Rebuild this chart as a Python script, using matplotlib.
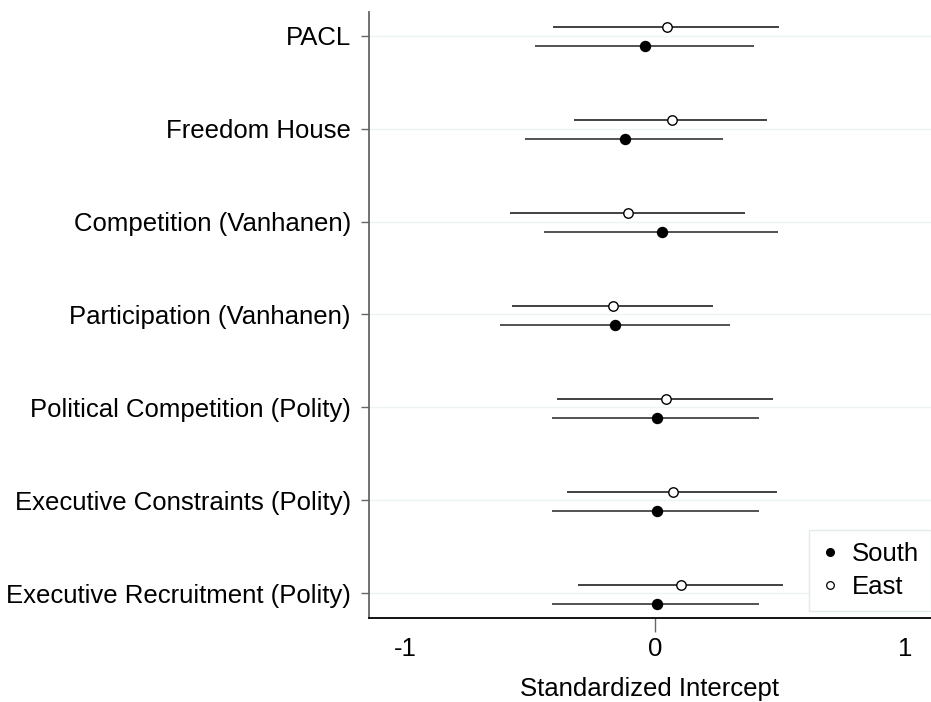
import numpy as np
import matplotlib.pyplot as plt

plt.rcParams['font.family'] = ['Liberation Sans', 'DejaVu Sans']

labels = ["PACL", "Freedom House", "Competition (Vanhanen)",
          "Participation (Vanhanen)", "Political Competition (Polity)",
          "Executive Constraints (Polity)", "Executive Recruitment (Polity)"]

# point estimates and interval ends
south_est = [-0.039, -0.120, 0.027, -0.159, 0.007, 0.007, 0.007]
south_lo = [-0.480, -0.520, -0.443, -0.620, -0.413, -0.413, -0.413]
south_hi = [0.396, 0.273, 0.491, 0.300, 0.417, 0.417, 0.417]

east_est = [0.049, 0.067, -0.107, -0.167, 0.043, 0.071, 0.103]
east_lo = [-0.407, -0.324, -0.580, -0.571, -0.393, -0.351, -0.309]
east_hi = [0.495, 0.449, 0.360, 0.231, 0.471, 0.489, 0.511]

fig = plt.figure(figsize=(9.31, 7.02), dpi=100)
ax = fig.add_axes([369/931, (702-618)/702, (931-369)/931, (618-12)/702])

ypos = np.arange(len(labels))[::-1]
y_east = ypos + 0.09
y_south = ypos - 0.113

for y in ypos:
    ax.axhline(y, color='#edf2f2', lw=1.0, zorder=0)

ax.hlines(y_east, east_lo, east_hi, color='#333333', lw=1.3, zorder=2)
ax.hlines(y_south, south_lo, south_hi, color='#444444', lw=1.3, zorder=2)
ax.plot(south_est, y_south, 'o', color='black', ms=7.2, zorder=3, label='South')
ax.plot(east_est, y_east, 'o', mfc='white', mec='black', mew=1.0, ms=6.8, zorder=3, label='East')

ax.set_xlim(-1.144, 1.104)
ax.set_ylim(-0.266, 6.255)

ax.set_yticks(ypos)
ax.set_yticklabels(labels, fontsize=18.5)
ax.set_xticks([-1, 0, 1])
ax.set_xticklabels(['-1', '0', '1'], fontsize=18.5)
ax.tick_params(axis='y', length=6, width=1, color='#666666', pad=7)
ax.tick_params(axis='x', length=10, width=1, color='#666666', pad=3.5)
xt = ax.xaxis.get_major_ticks()
xt[0].tick1line.set_visible(False)
xt[2].tick1line.set_visible(False)

ax.spines['top'].set_visible(False)
ax.spines['right'].set_visible(False)
ax.spines['left'].set_color('#666666')
ax.spines['left'].set_linewidth(1.3)
ax.spines['bottom'].set_color('black')
ax.spines['bottom'].set_linewidth(1.3)

ax.set_xlabel('Standardized Intercept', fontsize=18.5, labelpad=12)

h1 = plt.Line2D([], [], ls='none', marker='o', color='black', ms=5.5)
h2 = plt.Line2D([], [], ls='none', marker='o', mfc='white', mec='black', mew=0.9, ms=5.5)
leg = ax.legend([h1, h2], ['South', 'East'], loc='lower right', fontsize=18.5,
                bbox_to_anchor=(1.0, 7/606), borderaxespad=0,
                fancybox=False, framealpha=1, edgecolor='#e3eaea',
                handlelength=0.8, handletextpad=0.45, labelspacing=0.37,
                borderpad=0.45)
leg.get_frame().set_linewidth(1.0)

fig.savefig('out.png', dpi=100)
